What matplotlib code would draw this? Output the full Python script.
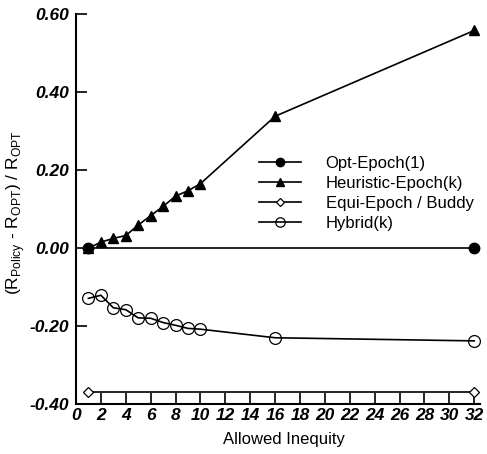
import numpy as np
import matplotlib
matplotlib.use("Agg")
import matplotlib.pyplot as plt

plt.rcParams['font.family'] = ['Liberation Sans', 'DejaVu Sans']
plt.rcParams['mathtext.fontset'] = 'custom'
plt.rcParams['mathtext.rm'] = 'Liberation Sans'

# allowed inequity values for each policy
opt_x = [1, 32]
opt_y = [0.0, 0.0]

heur_x = [1, 2, 3, 4, 5, 6, 7, 8, 9, 10, 16, 32]
heur_y = [0.0, 0.015, 0.025, 0.032, 0.059, 0.083, 0.107, 0.133, 0.147, 0.165, 0.338, 0.558]

equi_x = [1, 32]
equi_y = [-0.37, -0.37]

hyb_x = [1, 2, 3, 4, 5, 6, 7, 8, 9, 10, 16, 32]
hyb_y = [-0.129, -0.121, -0.153, -0.158, -0.179, -0.180, -0.191, -0.198, -0.206, -0.208, -0.230, -0.238]

xticks = list(range(0, 33, 2))
yticks = [-0.40, -0.20, 0.00, 0.20, 0.40, 0.60]

fig = plt.figure(figsize=(4.87, 4.54), dpi=100)
ax = fig.add_axes([0.156, 0.110, 0.8306, 0.859])

lw = 1.2
ax.plot(opt_x, opt_y, color='black', lw=lw, marker='o', ms=7.5,
        label='Opt-Epoch(1)', zorder=5)
ax.plot(heur_x, heur_y, color='black', lw=lw, marker='^', ms=7,
        label='Heuristic-Epoch(k)', zorder=4)
ax.plot(equi_x, equi_y, color='black', lw=lw, marker='D', ms=5.5,
        mfc='white', mew=0.9, label='Equi-Epoch / Buddy', zorder=3)
ax.plot(hyb_x, hyb_y, color='black', lw=lw, marker='o', ms=8.5,
        mfc='none', mew=0.9, label='Hybrid(k)', zorder=3)

ax.set_xlim(0, 32.5)
ax.set_ylim(-0.40, 0.60)

for side in ['top', 'right']:
    ax.spines[side].set_visible(False)
for side in ['left', 'bottom']:
    ax.spines[side].set_linewidth(1.5)

ax.set_xticks(xticks)
ax.set_xticklabels([str(t) for t in xticks])
ax.set_yticks(yticks)
ax.set_yticklabels(['%.2f' % v if v != 0 else '0.00' for v in yticks])
ax.tick_params(direction='in', length=8, width=1.2, pad=3)
ax.tick_params(axis='y', pad=5)
for lab in ax.get_xticklabels() + ax.get_yticklabels():
    lab.set_fontweight('bold')
    lab.set_fontstyle('italic')
    lab.set_fontsize(12.5)

ax.set_xlabel('Allowed Inequity', fontsize=12)
ax.xaxis.set_label_coords(0.514, -0.072)
ax.set_ylabel(r'(R$_{\mathregular{Policy}}$ - R$_{\mathregular{OPT}}$) / R$_{\mathregular{OPT}}$',
              fontsize=12.5)
ax.yaxis.set_label_coords(-0.122, 0.49)

leg = ax.legend(loc='upper left', bbox_to_anchor=(259 / 487, 1 - 156 / 454),
                bbox_transform=fig.transFigure, frameon=False, fontsize=12,
                handlelength=2.5, handletextpad=1.5, labelspacing=0.3,
                markerscale=0.8, borderpad=0, borderaxespad=0)

fig.savefig('out.png', dpi=100)
